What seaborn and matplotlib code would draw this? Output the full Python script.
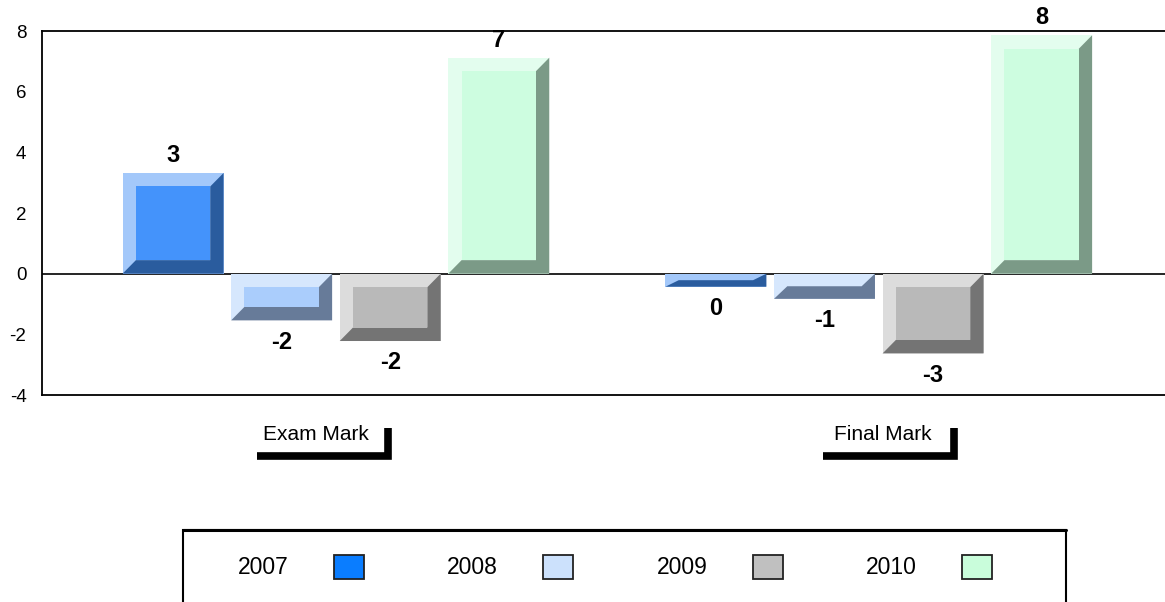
import numpy as np
import pandas as pd
import matplotlib
matplotlib.use("Agg")
import matplotlib.pyplot as plt
import seaborn as sns
from matplotlib.patches import Polygon, Rectangle, Patch
from matplotlib.lines import Line2D

# data
marks = ["Exam Mark", "Final Mark"]
years = ["2007", "2008", "2009", "2010"]
exam_values = [3.32, -1.54, -2.22, 7.12]
final_values = [-0.43, -0.83, -2.63, 7.86]

face_colors = ["#4493fb", "#aacdfc", "#b9b9b9", "#cdfde0"]
light_colors = ["#a3c8fa", "#d6e7fd", "#dcdcdc", "#e3fdee"]
dark_colors = ["#2a5c9e", "#677b99", "#747474", "#7b9a87"]
swatch_colors = ["#0a7dff", "#cce1fc", "#c0c0c0", "#c9fddb"]

df = pd.DataFrame({
    "Mark": np.repeat(marks, len(years)),
    "Year": years * len(marks),
    "Value": exam_values + final_values,
})

sns.set_theme(style="white")
plt.rcParams["font.family"] = ["Liberation Sans", "DejaVu Sans"]
plt.rcParams["axes.unicode_minus"] = False
plt.rcParams["text.color"] = "black"

W, H = 1165, 602
fig = plt.figure(figsize=(W / 100, H / 100), dpi=100)
ax = fig.add_axes([41.7 / W, 1 - 395 / H, (1173 - 41.7) / W, 364 / H])

sns.barplot(data=df, x="Mark", y="Value", hue="Year", order=marks, hue_order=years,
            palette=light_colors, saturation=1, gap=0.07, linewidth=0,
            legend=False, ax=ax, zorder=3)

ax.set_xlim(-0.542, 1.542)
ax.set_ylim(-4, 8)

# bevel size in data units (about 13.5 px)
p0 = ax.transData.transform((0, 0))
p1 = ax.transData.transform((1, 1))
bev_x = 13.3 / (p1[0] - p0[0])
bev_y = 13.5 / (p1[1] - p0[1])

for i, cont in enumerate(ax.containers):
    for bar in cont:
        x0 = bar.get_x()
        w = bar.get_width()
        x1 = x0 + w
        y = bar.get_y()
        h = bar.get_height()
        yb, yt = min(y, y + h), max(y, y + h)
        dx = min(bev_x, w / 2)
        dy = min(bev_y, (yt - yb) / 2)
        dark = Polygon([(x1, yt), (x1, yb), (x0, yb), (x0 + dx, yb + dy),
                        (x1 - dx, yb + dy), (x1 - dx, yt - dy)],
                       closed=True, facecolor=dark_colors[i], edgecolor="none", zorder=3.1)
        ax.add_patch(dark)
        if yt - yb > 2 * dy:
            ax.add_patch(Rectangle((x0 + dx, yb + dy), w - 2 * dx, yt - yb - 2 * dy,
                                   facecolor=face_colors[i], edgecolor="none", zorder=3.2))
        v = y + h
        off = 8 if v >= 0 else -20.5
        ax.annotate(f"{int(round(v))}", (x0 + w / 2, v), xytext=(0, off),
                    textcoords="offset points", ha="center", va="baseline",
                    fontsize=17, fontweight="bold", color="black", annotation_clip=False)

ax.axhline(0, color="black", lw=1.2, zorder=2)

for s in ["left", "top", "bottom", "right"]:
    ax.spines[s].set_color("black")
    ax.spines[s].set_linewidth(1.3)

ax.set_yticks(range(-4, 9, 2))
ax.tick_params(axis="y", length=0, pad=11, labelsize=13.5, colors="black")
ax.set_xticks([])
ax.set_xlabel("")
ax.set_ylabel("")

# category labels with the bracket underline
bracket_shift = [-0.022, 0.022]
for i, m in enumerate(marks):
    c = i + bracket_shift[i]
    ax.plot([c - 0.1243, c + 0.1172, c + 0.1172], [-6.0, -6.0, -5.08],
            color="black", lw=5.5, solid_joinstyle="miter", solid_capstyle="butt",
            clip_on=False)
    ax.text(c - 0.0142, -5.49, m, ha="center", va="baseline", fontsize=15, color="black")

# legend
handles = [Patch(facecolor=c, edgecolor="#222222", linewidth=1.3) for c in swatch_colors]
fig.legend(handles, years, loc="center left", bbox_to_anchor=(238 / W, 1 - 567 / H),
           ncol=4, frameon=False, markerfirst=False, fontsize=16.5, labelcolor="black",
           handlelength=1.31, handleheight=1.27, handletextpad=1.96,
           columnspacing=3.65, borderpad=0, borderaxespad=0)

top = 1 - 529.5 / H
fig.add_artist(Rectangle((183 / W, -0.1), (1066 - 183) / W, top + 0.1,
                         transform=fig.transFigure, fill=False, edgecolor="black", lw=1.5))
fig.add_artist(Line2D([183 / W, 1066 / W], [top, top], transform=fig.transFigure,
                      color="black", lw=2.2))

fig.savefig("out.png", dpi=100)
